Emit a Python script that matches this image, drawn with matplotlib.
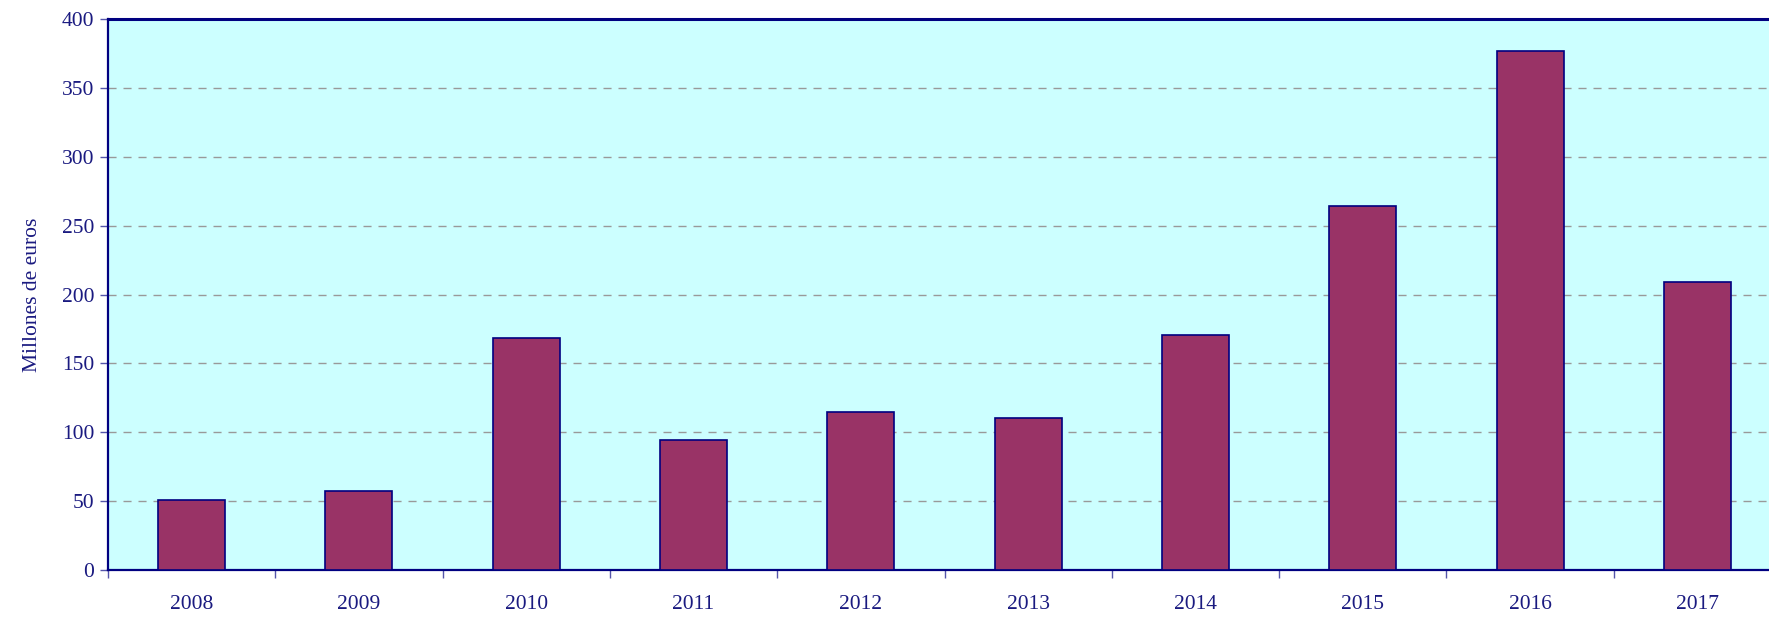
import numpy as np
import matplotlib.pyplot as plt

years = ['2008', '2009', '2010', '2011', '2012', '2013', '2014', '2015', '2016', '2017']
valores = [50.6, 57.1, 168.2, 94.1, 114.5, 110.1, 170.8, 264.2, 377.0, 209.1]

navy = '#000080'
txt = '#1a1a80'

plt.rcParams['font.family'] = ['Liberation Serif', 'DejaVu Serif']

fig = plt.figure(figsize=(17.69, 6.17), dpi=100)
ax = fig.add_axes([108 / 1769, 47 / 617, 1673 / 1769, 551 / 617])
ax.set_facecolor('#CCFFFF')

x = np.arange(len(years))
ax.bar(x, valores, width=0.4, color='#993366', edgecolor=navy, linewidth=1.2, zorder=3)

ax.set_xlim(-0.5, len(years) - 0.5)
ax.set_ylim(0, 400)
ax.set_yticks(np.arange(0, 401, 50))

# líneas de cuadrícula discontinuas (no en 0 / 400)
for yv in np.arange(50, 400, 50):
    ax.axhline(yv, color='#999999', linewidth=1.0, linestyle=(0, (5.8, 5)), zorder=1)

ax.set_xticks(x)
ax.set_xticklabels(years)
ax.set_xticks(np.arange(-0.5, len(years), 1), minor=True)
ax.tick_params(axis='x', which='major', length=0, pad=18, labelsize=15.5, labelcolor=txt)
ax.tick_params(axis='x', which='minor', length=6, width=1, color='#5555aa', direction='out')
ax.tick_params(axis='y', length=6, width=1, color='#5555aa', direction='out', pad=4,
               labelsize=15.5, labelcolor=txt)

for side in ['left', 'bottom']:
    ax.spines[side].set_color(navy)
    ax.spines[side].set_linewidth(1.6)
ax.spines['top'].set_color(navy)
ax.spines['top'].set_linewidth(2.2)
ax.spines['right'].set_visible(False)

ax.set_ylabel('Millones de euros', fontsize=15.5, color=txt, labelpad=14)

fig.savefig('out.png', dpi=100)
